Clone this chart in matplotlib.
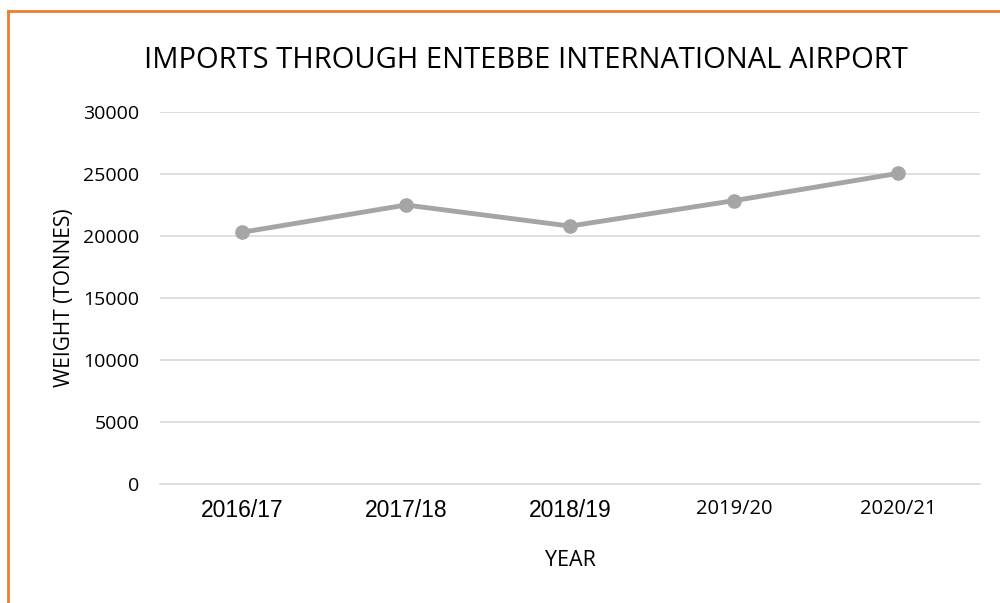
import matplotlib
matplotlib.use("Agg")
import matplotlib.pyplot as plt
from matplotlib.lines import Line2D

years = ["2016/17", "2017/18", "2018/19", "2019/20", "2020/21"]
weights = [20300, 22500, 20800, 22850, 25050]
yticks = [0, 5000, 10000, 15000, 20000, 25000, 30000]

plt.rcParams['font.family'] = ['Open Sans', 'DejaVu Sans']

fig = plt.figure(figsize=(10, 6.03), dpi=100)
ax = fig.add_axes([0.160, 1 - 484 / 603, 0.820, 372 / 603])

x = list(range(len(years)))
ax.plot(x, weights, color="#A5A5A5", linewidth=3.5, marker="o", markersize=9.5,
        solid_capstyle="round", zorder=3)

ax.set_xlim(-0.5, len(years) - 0.5)
ax.set_ylim(0, 30000)
ax.set_yticks(yticks)
ax.set_yticklabels([str(v) for v in yticks], fontsize=14)
ax.set_xticks(x)
ax.set_xticklabels(years)
# the first three labels are in a different font in the original
for lbl in ax.get_xticklabels()[:3]:
    lbl.set_family(['Liberation Sans'])
    lbl.set_fontsize(16.5)
for lbl in ax.get_xticklabels()[3:]:
    lbl.set_fontsize(14.5)
ax.grid(axis="y", color="#D9D9D9", linewidth=1.2)
ax.axhline(0, color="#D9D9D9", linewidth=1.2, clip_on=False, zorder=0)
ax.set_axisbelow(True)
for s in ax.spines.values():
    s.set_visible(False)
ax.tick_params(length=0)
ax.tick_params(axis="y", pad=15)
ax.tick_params(axis="x", pad=11)

ax.set_xlabel("YEAR", fontsize=15.5, labelpad=20)
ax.set_ylabel("WEIGHT (TONNES)", fontsize=15, labelpad=6)

fig.text(0.526, 1 - 60 / 603, "IMPORTS THROUGH ENTEBBE INTERNATIONAL AIRPORT",
         fontsize=21, ha="center", va="center")

# orange chart-area frame (only left and top visible in the crop)
fig.add_artist(Line2D([0.008, 0.008], [0, 1 - 11 / 603], color="#ED7D31", linewidth=2))
fig.add_artist(Line2D([0.008, 1.0], [1 - 11 / 603, 1 - 11 / 603], color="#ED7D31", linewidth=2))

fig.savefig("out.png", dpi=100)
